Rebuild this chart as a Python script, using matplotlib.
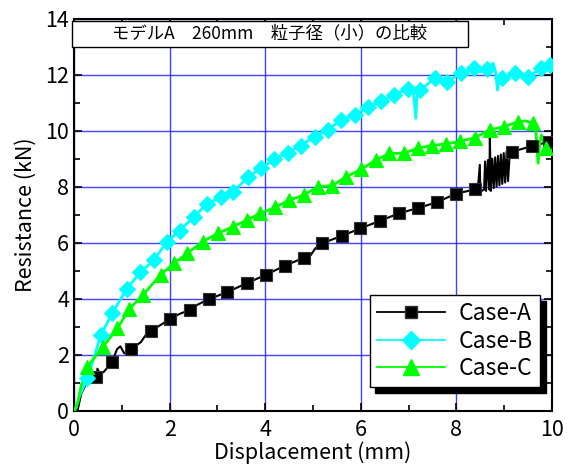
import matplotlib
matplotlib.use("Agg")
import matplotlib.pyplot as plt
from matplotlib.lines import Line2D
from matplotlib.patches import Rectangle
from matplotlib.ticker import MultipleLocator

plt.rcParams['font.family'] = ['Noto Sans CJK JP', 'DejaVu Sans']

title = "モデルA　260mm　粒子径（小）の比較"
xlabel = "Displacement (mm)"
ylabel = "Resistance (kN)"
labels = ["Case-A", "Case-B", "Case-C"]

# Case-A full curve
a_x = [0, 0.08, 0.15, 0.25, 0.35, 0.47, 0.49, 0.55, 0.63, 0.8, 0.9, 0.97, 1.05, 1.19, 1.4, 1.5, 1.62,
       1.8, 2.0, 2.2, 2.42, 2.6, 2.82, 3.21, 3.61, 4.01, 4.41, 4.81, 4.95, 5.05, 5.19, 5.6, 5.99,
       6.4, 6.8, 7.2, 7.6, 7.99, 8.38,
       8.45, 8.49, 8.5, 8.58, 8.6, 8.62, 8.66, 8.69, 8.7, 8.72, 8.75, 8.78, 8.81, 8.84, 8.87, 8.9,
       8.93, 8.96, 8.99, 9.02, 9.05, 9.08, 9.12,
       9.17, 9.58, 9.93, 10.0]
a_y = [0, 0.05, 0.6, 0.95, 1.1, 1.21, 1.5, 1.3, 1.4, 1.75, 2.2, 2.3, 2.05, 2.19, 2.45, 2.7, 2.85,
       3.05, 3.26, 3.45, 3.6, 3.8, 3.98, 4.24, 4.55, 4.85, 5.18, 5.46, 5.55, 5.8, 5.98, 6.24, 6.51,
       6.78, 7.05, 7.24, 7.45, 7.75, 7.9,
       7.95, 8.78, 7.82, 7.9, 8.9, 7.85, 8.95, 7.9, 9.8, 7.85, 9.0, 7.95, 9.05, 8.0, 9.1, 8.05,
       9.15, 8.1, 9.2, 8.15, 9.25, 8.2, 9.3,
       9.25, 9.45, 9.6, 9.65]
a_mx = [0.47, 0.8, 1.19, 1.62, 2.0, 2.42, 2.82, 3.21, 3.61, 4.01, 4.41, 4.81, 5.19, 5.6, 5.99,
        6.4, 6.8, 7.2, 7.6, 7.99, 8.38, 9.17, 9.58, 9.93]
a_my = [1.21, 1.75, 2.19, 2.85, 3.26, 3.6, 3.98, 4.24, 4.55, 4.85, 5.18, 5.46, 5.98, 6.24, 6.51,
        6.78, 7.05, 7.24, 7.45, 7.75, 7.9, 9.25, 9.45, 9.6]

# Case-B
b_x = [0, 0.04, 0.11, 0.28, 0.4, 0.56, 0.8, 1.1, 1.39, 1.67, 1.95, 2.21, 2.51, 2.78, 3.08, 3.33,
       3.65, 3.91, 4.19, 4.47, 4.74, 5.04, 5.31, 5.59, 5.875, 6.15, 6.43, 6.7, 6.98, 7.1, 7.15,
       7.18, 7.24, 7.55, 7.81, 8.09, 8.37, 8.5, 8.63, 8.7, 8.77, 8.82, 8.86, 8.9, 8.96, 9.22,
       9.5, 9.78, 9.95, 10.0]
b_y = [0, 0.08, 0.5, 1.16, 1.8, 2.7, 3.48, 4.35, 4.94, 5.38, 6.04, 6.43, 6.93, 7.38, 7.64, 7.82,
       8.36, 8.66, 8.98, 9.22, 9.47, 9.79, 10.03, 10.38, 10.56, 10.86, 11.05, 11.28, 11.5, 11.4, 10.44,
       11.3, 11.45, 11.87, 11.75, 12.05, 12.23, 12.1, 12.2, 12.3, 12.41, 12.1, 11.45, 11.9, 11.87, 12.05,
       11.93, 12.23, 12.35, 12.4]
b_mx = [0.28, 0.56, 0.8, 1.1, 1.39, 1.67, 1.95, 2.21, 2.51, 2.78, 3.08, 3.33, 3.65, 3.91, 4.19,
        4.47, 4.74, 5.04, 5.31, 5.59, 5.875, 6.15, 6.43, 6.7, 6.98, 7.24, 7.55, 7.81, 8.09, 8.37,
        8.63, 8.96, 9.22, 9.5, 9.78, 9.95]
b_my = [1.16, 2.7, 3.48, 4.35, 4.94, 5.38, 6.04, 6.43, 6.93, 7.38, 7.64, 7.82, 8.36, 8.66, 8.98,
        9.22, 9.47, 9.79, 10.03, 10.38, 10.56, 10.86, 11.05, 11.28, 11.5, 11.45, 11.87, 11.75, 12.05, 12.23,
        12.2, 11.87, 12.05, 11.93, 12.23, 12.35]

# Case-C
c_x = [0, 0.08, 0.15, 0.28, 0.61, 0.91, 1.15, 1.44, 1.81, 2.09, 2.37, 2.69, 3.01, 3.32, 3.62, 3.9,
       4.21, 4.5, 4.81, 5.1, 5.4, 5.7, 6.01, 6.31, 6.6, 6.9, 7.19, 7.49, 7.78, 8.08, 8.39, 8.7, 9.0,
       9.29, 9.45, 9.6, 9.66, 9.71, 9.74, 9.78, 9.88, 10.0]
c_y = [0, 0.3, 0.9, 1.57, 2.29, 2.94, 3.62, 4.13, 4.85, 5.26, 5.62, 6.04, 6.33, 6.57, 6.81, 7.05,
       7.26, 7.52, 7.7, 8.0, 8.04, 8.36, 8.62, 8.95, 9.19, 9.19, 9.38, 9.47, 9.53, 9.62, 9.75, 10.03, 10.15,
       10.32, 10.35, 10.26, 10.0, 8.84, 9.5, 9.85, 9.37, 9.3]
c_mx = [0.28, 0.61, 0.91, 1.15, 1.44, 1.81, 2.09, 2.37, 2.69, 3.01, 3.32, 3.62, 3.9, 4.21, 4.5,
        4.81, 5.1, 5.4, 5.7, 6.01, 6.31, 6.6, 6.9, 7.19, 7.49, 7.78, 8.08, 8.39, 8.7, 9.0, 9.29,
        9.6, 9.88]
c_my = [1.57, 2.29, 2.94, 3.62, 4.13, 4.85, 5.26, 5.62, 6.04, 6.33, 6.57, 6.81, 7.05, 7.26, 7.52,
        7.7, 8.0, 8.04, 8.36, 8.62, 8.95, 9.19, 9.19, 9.38, 9.47, 9.53, 9.62, 9.75, 10.03, 10.15, 10.32,
        10.26, 9.37]

fig = plt.figure(figsize=(5.71, 4.75), dpi=100)
ax = fig.add_axes([74/571, 1-410.7/475, 478/571, 392/475])

ax.set_xlim(0, 10)
ax.set_ylim(0, 14)
ax.xaxis.set_major_locator(MultipleLocator(2))
ax.xaxis.set_minor_locator(MultipleLocator(1))
ax.yaxis.set_major_locator(MultipleLocator(2))
ax.yaxis.set_minor_locator(MultipleLocator(1))
ax.grid(True, which='major', color='#0000ff', lw=1.0, alpha=0.75)
ax.set_axisbelow(True)
ax.tick_params(which='both', direction='in', top=True, right=True, width=1.2, labelsize=15.5, colors='black')
ax.tick_params(which='major', length=6)
ax.tick_params(which='minor', length=4)
ax.tick_params(axis='x', pad=6)
for s in ax.spines.values():
    s.set_linewidth(1.5)

styles = [
    ('black', 's', 8, 1.5, '#333333'),
    ('#00ffff', 'D', 8, 2.0, '#00ffff'),
    ('#00ff00', '^', 10, 2.0, '#00ff00'),
]
data = [(a_x, a_y, a_mx, a_my), (b_x, b_y, b_mx, b_my), (c_x, c_y, c_mx, c_my)]
handles = []
for (lx, ly, mx, my), (col, mk, ms, lw, mec), lab in zip(data, styles, labels):
    ax.plot(lx, ly, color=col, lw=lw, zorder=3)
    ax.plot(mx, my, ls='none', marker=mk, ms=ms, color=col, mec=mec, mew=0.8, zorder=4)
    handles.append(Line2D([], [], color=col, lw=1.3, marker=mk, ms=ms + 1, mec=mec, label=lab))

ax.set_xlabel(xlabel, fontsize=15.5, labelpad=0)
ax.set_ylabel(ylabel, fontsize=15.5, labelpad=6)

leg = ax.legend(handles=handles, loc='lower right', bbox_to_anchor=(0.975, 0.06),
                borderaxespad=0, fancybox=False, framealpha=1, edgecolor='black',
                fontsize=16.5, handlelength=3.0, handletextpad=0.6, labelspacing=0.2,
                borderpad=0.3,
                shadow={'ox': 4, 'oy': -4, 'facecolor': 'black', 'edgecolor': 'black', 'alpha': 1})
leg.get_frame().set_linewidth(1.0)
leg.set_zorder(10)

# Title box
ax.add_patch(Rectangle((-0.004, 0.929), 0.828, 0.066, transform=ax.transAxes,
                       facecolor='white', edgecolor='black', lw=1.0, clip_on=False, zorder=11))
ax.text(0.41, 0.962, title, transform=ax.transAxes, ha='center', va='center',
        fontsize=12.5, zorder=12)

fig.savefig("out.png", dpi=100)
